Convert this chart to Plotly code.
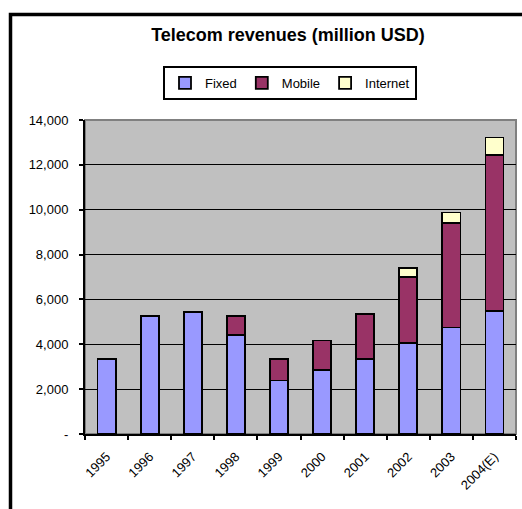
import plotly.graph_objects as go

years = ["1995", "1996", "1997", "1998", "1999", "2000", "2001", "2002", "2003", "2004(E)"]
fixed = [3340, 5270, 5450, 4420, 2390, 2870, 3330, 4060, 4750, 5470]
mobile = [0, 0, 0, 850, 950, 1300, 2020, 2940, 4660, 6980]
internet = [0, 0, 0, 0, 0, 0, 0, 400, 470, 770]

y_tickvals = [0, 2000, 4000, 6000, 8000, 10000, 12000, 14000]
y_ticktext = ["-", "2,000", "4,000", "6,000", "8,000", "10,000", "12,000", "14,000"]

W, H = 522, 509
L, T = 85, 120
R = W - 516
B = H - 434
pw, ph = W - L - R, H - T - B

font = "Liberation Sans, Arial, sans-serif"
outline = dict(color="black", width=1.8)

fig = go.Figure()
fig.add_trace(go.Bar(name="Fixed", x=years, y=fixed, marker=dict(color="#9999FF", line=outline)))
fig.add_trace(go.Bar(name="Mobile", x=years, y=mobile, marker=dict(color="#993366", line=outline)))
fig.add_trace(go.Bar(name="Internet", x=years, y=internet, marker=dict(color="#FFFFCC", line=outline)))

def px_x(p):  # page pixel -> paper x
    return (p - L) / pw

def px_y(p):  # page pixel -> paper y
    return (H - B - p) / ph

fig.update_layout(
    width=W, height=H,
    margin=dict(l=L, r=R, t=T, b=B, pad=0),
    barmode="stack",
    bargap=0.58,
    paper_bgcolor="white",
    plot_bgcolor="#C0C0C0",
    font=dict(family=font, size=13, color="black"),
    title=dict(text="<b>Telecom revenues (million USD)</b>", x=288 / W, xref="container",
               xanchor="center", y=1 - 35 / H, yref="container", yanchor="middle",
               font=dict(family=font, size=18, color="black")),
    legend=dict(orientation="h", x=px_x(290), xanchor="center", y=px_y(66), yanchor="top",
                bordercolor="black", borderwidth=2, bgcolor="white",
                font=dict(family=font, size=13), itemwidth=30,
                traceorder="normal"),
    xaxis=dict(type="category", showline=True, linecolor="black", linewidth=2,
               ticks="outside", tickson="boundaries", ticklen=4, tickwidth=2, tickcolor="black",
               tickangle=-45, showgrid=False, tickfont=dict(size=13), ticklabelstandoff=8),
    yaxis=dict(range=[0, 14000], tickvals=y_tickvals, ticktext=y_ticktext,
               showline=True, linecolor="black", linewidth=2,
               ticks="outside", ticklen=4, tickwidth=2, tickcolor="black",
               showgrid=True, gridcolor="black", gridwidth=1.3, zeroline=False,
               tickfont=dict(size=13), ticklabelstandoff=8),
    shapes=[
        dict(type="rect", xref="paper", yref="paper", x0=0, x1=1, y0=0, y1=1,
             line=dict(color="#808080", width=2), layer="below"),
        dict(type="rect", xref="paper", yref="paper",
             x0=px_x(10.5), x1=px_x(540), y0=px_y(530), y1=px_y(14.5),
             line=dict(color="black", width=3.5), layer="above"),
    ],
)

fig.write_html("out.html", config={"displayModeBar": False},
               post_script="document.body.style.margin='0px';")
